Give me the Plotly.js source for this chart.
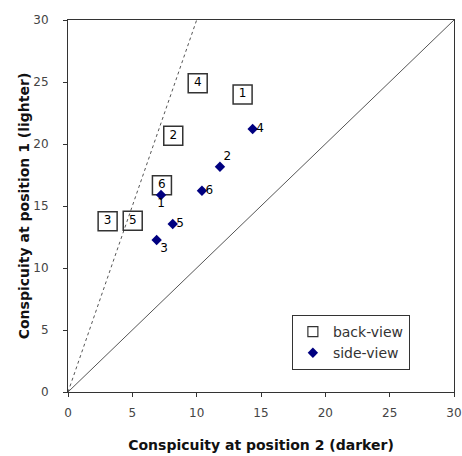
<!DOCTYPE html>
<html>
<head>
<meta charset="utf-8">
<script src="https://cdn.plot.ly/plotly-3.0.1.min.js"></script>
<style>html,body{margin:0;padding:0;background:#fff;}#chart{width:462px;height:456px;}</style>
</head>
<body>
<div id="chart"></div>
<script>
// back-view (boxed numbers)
const backLabels = ['1','2','3','4','5','6'];
const backX = [13.57, 8.18, 3.08, 10.08, 5.03, 7.30];
const backY = [24.0, 20.67, 13.77, 24.9, 13.81, 16.67];
// side-view (diamonds)
const sideLabels = ['1','2','3','4','5','6'];
const sideX = [7.23, 11.81, 6.89, 14.35, 8.14, 10.41];
const sideY = [15.89, 18.17, 12.26, 21.21, 13.55, 16.23];
const sideTextPos = ['bottom center','top right','bottom right','middle right','middle right','middle right'];
// reference lines
const equalX = [0, 30], equalY = [0, 30];
const steepX = [0, 10], steepY = [0, 30];
const ticks = [0, 5, 10, 15, 20, 25, 30];

const font = 'DejaVu Sans, sans-serif';
const traces = [
  {x: equalX, y: equalY, mode: 'lines', line: {color: '#555', width: 1}, showlegend: false, hoverinfo: 'skip'},
  {x: steepX, y: steepY, mode: 'lines', line: {color: '#555', width: 1, dash: 'dot'}, showlegend: false, hoverinfo: 'skip'},
  {x: backX, y: backY, mode: 'markers+text', text: backLabels, textposition: 'middle center',
   textfont: {family: font, size: 12, color: '#000'},
   marker: {symbol: 'square-open', size: 19, color: '#333', line: {width: 1.5}}, showlegend: false, cliponaxis: false},
  {x: sideX, y: sideY, mode: 'markers', marker: {symbol: 'diamond', size: 8, color: '#000080'}, showlegend: false},
  {x: sideX, y: sideY, mode: 'markers+text', text: sideLabels, textposition: sideTextPos,
   marker: {size: 4, opacity: 0}, textfont: {family: font, size: 12, color: '#000'}, showlegend: false, cliponaxis: false},
  {x: [null], y: [null], mode: 'markers', name: 'back-view', marker: {symbol: 'square-open', size: 10, color: '#333', line: {width: 1.2}}},
  {x: [null], y: [null], mode: 'markers', name: 'side-view', marker: {symbol: 'diamond', size: 8, color: '#000080'}}
];

const axisBase = {
  range: [0, 30], tickvals: ticks, ticktext: ticks.map(String), showgrid: false, zeroline: false,
  showline: true, linecolor: '#333', linewidth: 1, mirror: true,
  ticks: 'outside', ticklen: 4, tickcolor: '#333',
  tickfont: {family: font, size: 12, color: '#444'}
};

const layout = {
  width: 462, height: 456,
  margin: {l: 68, r: 8, t: 20, b: 64},
  paper_bgcolor: '#fff', plot_bgcolor: '#fff',
  xaxis: Object.assign({}, axisBase, {ticklabelstandoff: 6,
    title: {text: '<b>Conspicuity at position 2 (darker)</b>', font: {family: font, size: 14, color: '#111'}, standoff: 20}}),
  yaxis: Object.assign({}, axisBase, {ticklabelstandoff: 12,
    title: {text: '<b>Conspicuity at position 1 (lighter)</b>', font: {family: font, size: 14, color: '#111'}, standoff: 0}}),
  legend: {x: 0.58, y: 0.207, xanchor: 'left', yanchor: 'top', bgcolor: '#fff', bordercolor: '#333', borderwidth: 1,
           font: {family: font, size: 14, color: '#333'}, itemwidth: 30, tracegroupgap: 0},
  showlegend: true
};

Plotly.newPlot('chart', traces, layout, {staticPlot: true, displayModeBar: false});
</script>
</body>
</html>
